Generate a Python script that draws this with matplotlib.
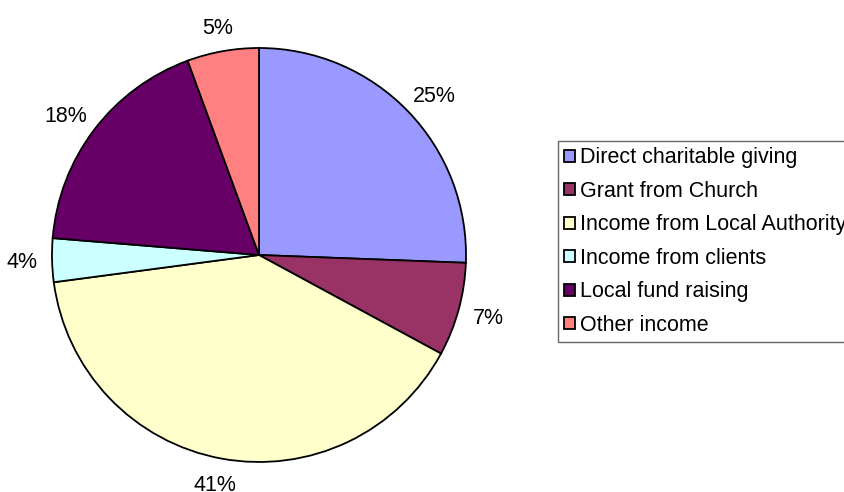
# ------------------------------------------------------------------------------
# Description:  Pie chart of income sources with external legend
# ------------------------------------------------------------------------------

import matplotlib.pyplot as plt
import matplotlib.patches as mpatches
import numpy as np

# ----------------------------------------------------------------------
# Data
# ----------------------------------------------------------------------

categories = ["Direct charitable giving", "Grant from Church",
              "Income from Local Authority", "Income from clients",
              "Local fund raising", "Other income"]
shares = [25.6, 7.3, 40.0, 3.4, 18.1, 5.6]
pct_labels = ["25%", "7%", "41%", "4%", "18%", "5%"]
colors = ["#9999FF", "#993366", "#FFFFCC", "#CCFFFF", "#660066", "#FF8080"]

# ----------------------------------------------------------------------
# Functions
# ----------------------------------------------------------------------


def plotPie(fileName="out.png"):
    plt.rcParams['font.family'] = ['Liberation Sans', 'DejaVu Sans']

    W, H = 844, 492
    fig = plt.figure(figsize=(W / 100, H / 100), dpi=100)
    fig.patch.set_facecolor('white')

    # Pie axes: centre (259, 255) px, radius 207 px
    cx, cy, r = 259, 255, 207
    ax = fig.add_axes([(cx - r) / W, (H - cy - r) / H, 2 * r / W, 2 * r / H])

    wedges, _ = ax.pie(shares, colors=colors, startangle=90, counterclock=False,
                       radius=1.0,
                       wedgeprops=dict(edgecolor='black', linewidth=1.3))
    ax.set_xlim(-1, 1)
    ax.set_ylim(-1, 1)
    ax.set_aspect('equal')
    ax.axis('off')

    # Percentage labels: box kept a fixed gap outside the rim (Excel style)
    renderer = fig.canvas.get_renderer()
    gap = 15 / r
    for w, txt in zip(wedges, pct_labels):
        ang = np.deg2rad(0.5 * (w.theta1 + w.theta2))
        t = ax.text(0, 0, txt, ha='center', va='center', fontsize=15.5,
                    clip_on=False)
        bb = t.get_window_extent(renderer)
        hw = 0.5 * bb.width / r
        hh = 10 / r
        x = (1 + gap) * np.cos(ang) + hw * np.cos(ang)
        y = (1 + gap) * np.sin(ang) + hh * np.sin(ang) - 2 / r
        t.set_position((x, y))

    # Legend
    handles = [mpatches.Patch(facecolor=c, edgecolor='black', linewidth=1.3)
               for c in colors]
    leg = fig.legend(handles, categories, loc='upper left',
                     bbox_to_anchor=(558 / W, 1 - 141 / H),
                     bbox_transform=fig.transFigure, borderaxespad=0,
                     fontsize=15.5, frameon=True, fancybox=False,
                     handlelength=0.5, handleheight=0.5, handletextpad=0.2,
                     labelspacing=0.58, borderpad=0.3)
    leg.get_frame().set_edgecolor('#404040')
    leg.get_frame().set_linewidth(1.0)

    plt.savefig(fileName, dpi=100)
    plt.close()


if __name__ == "__main__":
    plotPie()
